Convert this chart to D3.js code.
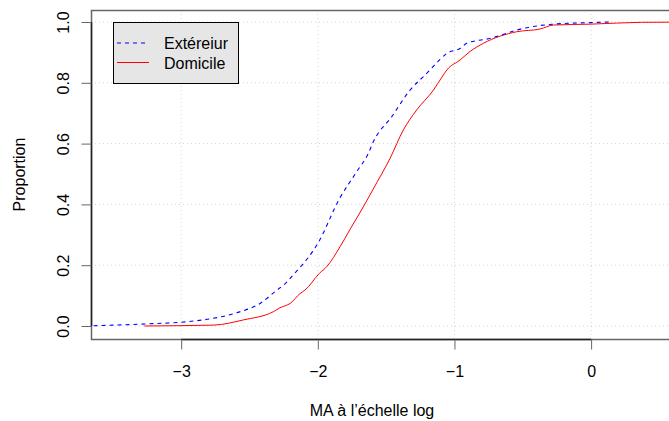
<!DOCTYPE html>
<html>
<head>
<meta charset="utf-8">
<script src="https://cdn.jsdelivr.net/npm/d3@7"></script>
<style>
  body { margin: 0; background: #fff; }
  text { font-family: "Liberation Sans", Arial, Helvetica, sans-serif; }
</style>
</head>
<body>
<svg id="chart" width="669" height="421"></svg>
<script>
// ---- data ----
const seriesNames = ["Extéreiur", "Domicile"];
const extX = [-3.7, -3.25, -2.96, -2.81, -2.59, -2.42, -2.30, -2.25, -2.18, -2.04, -2.0, -1.84, -1.715, -1.63, -1.594, -1.46, -1.325, -1.203, -1.105, -1.056, -0.959, -0.91, -0.74, -0.496, -0.276, 0.0, 0.14];
const extP = [0, 0.007, 0.014, 0.022, 0.044, 0.075, 0.118, 0.135, 0.168, 0.244, 0.272, 0.42, 0.508, 0.568, 0.606, 0.688, 0.776, 0.831, 0.877, 0.897, 0.913, 0.93, 0.946, 0.979, 0.993, 0.998, 1.0];
const domX = [-3.27, -2.76, -2.545, -2.326, -2.277, -2.2, -2.13, -2.094, -1.989, -1.935, -1.837, -1.764, -1.667, -1.594, -1.471, -1.374, -1.276, -1.154, -1.081, -1.056, -0.959, -0.886, -0.788, -0.544, -0.373, -0.276, 0.0, 0.37, 0.9];
const domP = [0, 0.003, 0.02, 0.047, 0.06, 0.075, 0.107, 0.118, 0.173, 0.195, 0.261, 0.318, 0.392, 0.451, 0.552, 0.645, 0.711, 0.776, 0.826, 0.842, 0.875, 0.903, 0.93, 0.968, 0.977, 0.99, 0.993, 0.999, 1.0];
const xTicks = [-3, -2, -1, 0];
const yTicks = [0, 0.2, 0.4, 0.6, 0.8, 1.0];
const xTitle = "MA à l’échelle log";
const yTitle = "Proportion";

// ---- layout ----
const svg = d3.select("#chart");
const L = 91, T = 10, B = 339, R = 700;
const x = d3.scaleLinear().domain([-3.66, 0.57]).range([91, 669]);
const y = d3.scaleLinear().domain([0, 1]).range([326, 22]);
const fs = 16;

// grid
const grid = svg.append("g").attr("stroke", "#d3d3d3").attr("stroke-dasharray", "1,3").attr("stroke-width", 1);
xTicks.forEach(t => grid.append("line").attr("x1", x(t)).attr("x2", x(t)).attr("y1", T).attr("y2", B));
yTicks.forEach(t => grid.append("line").attr("x1", L).attr("x2", R).attr("y1", y(t)).attr("y2", y(t)));

// clip
svg.append("clipPath").attr("id", "clip").append("rect").attr("x", L).attr("y", T).attr("width", R - L).attr("height", B - T);

const line = d3.line().x(d => x(d[0])).y(d => y(d[1])).curve(d3.curveMonotoneX);
const extData = extX.map((v, i) => [v, extP[i]]);
const domData = domX.map((v, i) => [v, domP[i]]);
const g = svg.append("g").attr("clip-path", "url(#clip)");
g.append("path").attr("d", line(domData)).attr("fill", "none").attr("stroke", "#ff0000").attr("stroke-width", 1);
g.append("path").attr("d", line(extData)).attr("fill", "none").attr("stroke", "#0000ff").attr("stroke-width", 1.1).attr("stroke-dasharray", "4,4");

// box
svg.append("rect").attr("x", L + 0.5).attr("y", T + 0.5).attr("width", R - L).attr("height", B - T)
  .attr("fill", "none").attr("stroke", "#666").attr("stroke-width", 1.5);

// x axis
const xa = svg.append("g").attr("transform", `translate(0,${B + 0.5})`)
  .call(d3.axisBottom(x).tickValues(xTicks).tickSize(10).tickPadding(16)
    .tickFormat(d => d < 0 ? "\u2212" + Math.abs(d) : String(d)));
xa.select(".domain").attr("d", `M${x(-3)},0H${x(0)}`).attr("stroke", "#222").attr("stroke-width", 1.5);
xa.selectAll(".tick line").attr("stroke", "#666");
xa.selectAll("text").attr("font-size", fs).attr("fill", "#000").attr("font-family", "Liberation Sans, Arial, sans-serif");

// y axis
const ya = svg.append("g").attr("transform", `translate(${L + 0.5},0)`)
  .call(d3.axisLeft(y).tickValues(yTicks).tickSize(10).tickFormat(d3.format(".1f")));
ya.select(".domain").attr("d", `M0,${y(0)}V${y(1)}`).attr("stroke", "#222").attr("stroke-width", 1.5);
ya.selectAll(".tick line").attr("stroke", "#666");
ya.selectAll("text").attr("font-size", fs).attr("fill", "#000")
  .attr("font-family", "Liberation Sans, Arial, sans-serif")
  .attr("x", null).attr("dy", null).attr("text-anchor", "middle")
  .attr("transform", "translate(-23,0) rotate(-90)");

// titles
svg.append("text").attr("x", (L + 669) / 2 - 8).attr("y", 416).attr("text-anchor", "middle").attr("font-size", fs).text(xTitle);
svg.append("text").attr("transform", `translate(25,174.5) rotate(-90)`).attr("text-anchor", "middle").attr("font-size", fs).text(yTitle);

// legend
const lg = svg.append("g");
lg.append("rect").attr("x", 113.5).attr("y", 22.5).attr("width", 125).attr("height", 61)
  .attr("fill", "#e6e6e6").attr("stroke", "#000").attr("stroke-width", 1);
const colors = ["#0000ff", "#ff0000"];
const dashes = ["4,4", null];
seriesNames.forEach((n, i) => {
  const yy = 43 + i * 19.5;
  lg.append("line").attr("x1", 117).attr("x2", 149).attr("y1", yy).attr("y2", yy)
    .attr("stroke", colors[i]).attr("stroke-width", 1).attr("stroke-dasharray", dashes[i]);
  lg.append("text").attr("x", 164).attr("y", yy + 6).attr("font-size", fs).text(n);
});
</script>
</body>
</html>
